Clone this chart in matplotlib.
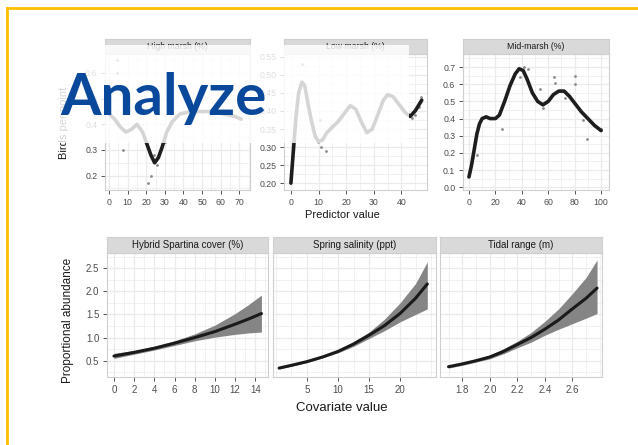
import matplotlib
matplotlib.use("Agg")
import matplotlib.pyplot as plt
from matplotlib.patches import Rectangle
from matplotlib.lines import Line2D
from matplotlib.ticker import MultipleLocator

plt.rcParams['font.family'] = ['Liberation Sans', 'DejaVu Sans']

W, H = 638, 445

# ---- top row: bird response to marsh composition ----
top_titles = ["High marsh (%)", "Low marsh (%)", "Mid-marsh (%)"]
top_ylabel = "Birds per point"
top_xlabel = "Predictor value"

high_x = [0, 3, 6, 9, 12, 15, 18, 20.5, 22.5, 24.5, 26.5, 28.5, 31, 34, 38, 44, 50, 56, 62, 68, 71]
high_y = [0.44, 0.42, 0.39, 0.37, 0.38, 0.40, 0.37, 0.32, 0.28, 0.25, 0.27, 0.31, 0.37, 0.41,
          0.44, 0.45, 0.45, 0.45, 0.44, 0.43, 0.42]
high_pts_x = [7.5, 22.6, 21, 4, 4.5, 10, 24, 26, 30]
high_pts_y = [0.30, 0.20, 0.17, 0.65, 0.60, 0.52, 0.28, 0.24, 0.33]

low_x = [0, 0.5, 1.0, 1.8, 2.8, 4.0, 5.0, 6.2, 7.5, 8.8, 10, 11.5, 13, 15, 17, 19, 21.5, 23.5,
         25.5, 27.5, 29.5, 31.5, 33.5, 35, 37, 39, 41.5, 43.2, 45, 47.4]
low_y = [0.20, 0.25, 0.30, 0.38, 0.45, 0.48, 0.47, 0.42, 0.37, 0.33, 0.315, 0.32, 0.34, 0.355,
         0.37, 0.39, 0.415, 0.405, 0.37, 0.34, 0.35, 0.39, 0.43, 0.445, 0.44, 0.42, 0.395,
         0.385, 0.40, 0.43]
low_pts_x = [10.8, 12.6, 44, 45, 46.5, 47, 4, 10.5, 15]
low_pts_y = [0.30, 0.29, 0.38, 0.39, 0.41, 0.44, 0.53, 0.375, 0.36]

mid_x = [0, 2, 4, 6, 8, 10, 13, 16, 20, 23, 27, 31, 35, 38, 41, 44, 48, 52, 56, 60, 64, 68,
         72, 76, 80, 85, 90, 95, 100]
mid_y = [0.06, 0.13, 0.22, 0.31, 0.37, 0.40, 0.41, 0.40, 0.40, 0.42, 0.50, 0.59, 0.66, 0.69,
         0.68, 0.63, 0.55, 0.50, 0.48, 0.50, 0.54, 0.56, 0.56, 0.53, 0.49, 0.44, 0.40, 0.36, 0.33]
mid_pts_x = [6, 3, 25, 39, 42, 45, 54, 56, 64, 65, 73, 80, 80, 86, 89, 100]
mid_pts_y = [0.19, 0.18, 0.34, 0.64, 0.70, 0.69, 0.57, 0.46, 0.64, 0.61, 0.52, 0.65, 0.60,
             0.39, 0.28, 0.34]

# ---- bottom row: proportional abundance vs covariates ----
bot_titles = ["Hybrid Spartina cover (%)", "Spring salinity (ppt)", "Tidal range (m)"]
bot_ylabel = "Proportional abundance"
bot_xlabel = "Covariate value"

sp_x = [0, 2, 4, 6, 8, 10, 12, 13.3, 14.6]
sp_fit = [0.60, 0.68, 0.77, 0.88, 1.00, 1.13, 1.29, 1.40, 1.52]
sp_lo = [0.55, 0.64, 0.73, 0.83, 0.93, 1.01, 1.07, 1.10, 1.12]
sp_hi = [0.66, 0.72, 0.81, 0.93, 1.08, 1.27, 1.52, 1.71, 1.92]

sal_x = [0.5, 2.5, 5, 7.5, 10, 12.5, 15, 17.5, 20, 22.5, 24.4]
sal_fit = [0.34, 0.40, 0.48, 0.58, 0.70, 0.86, 1.05, 1.26, 1.52, 1.85, 2.16]
sal_lo = [0.32, 0.38, 0.46, 0.56, 0.67, 0.81, 0.98, 1.15, 1.34, 1.50, 1.62]
sal_hi = [0.36, 0.42, 0.50, 0.61, 0.73, 0.91, 1.12, 1.40, 1.75, 2.17, 2.64]

tide_x = [1.70, 1.8, 1.9, 2.0, 2.1, 2.2, 2.3, 2.4, 2.5, 2.6, 2.7, 2.78]
tide_fit = [0.37, 0.43, 0.50, 0.58, 0.70, 0.85, 1.00, 1.18, 1.38, 1.62, 1.85, 2.07]
tide_lo = [0.34, 0.40, 0.47, 0.54, 0.65, 0.78, 0.90, 1.05, 1.18, 1.30, 1.42, 1.52]
tide_hi = [0.40, 0.46, 0.53, 0.62, 0.76, 0.92, 1.11, 1.35, 1.62, 1.95, 2.30, 2.68]

bot_xticks = [[0, 2, 4, 6, 8, 10, 12, 14], [5, 10, 15, 20], [1.8, 2.0, 2.2, 2.4, 2.6]]
bot_xticklabels = [["0", "2", "4", "6", "8", "10", "12", "14"], ["5", "10", "15", "20"],
                   ["1.8", "2.0", "2.2", "2.4", "2.6"]]
bot_yticks = [0.5, 1.0, 1.5, 2.0, 2.5]

GRID = "#EBEBEB"
BORDER = "#CFCFCF"
STRIP = "#D9D9D9"
TICKC = "#4D4D4D"

fig = plt.figure(figsize=(W / 100, H / 100), dpi=100)
fig.patch.set_facecolor("white")


def box(x0, y0, x1, y1):
    return [x0 / W, 1 - y1 / H, (x1 - x0) / W, (y1 - y0) / H]


def panel(x0, y0, x1, y1, strip_h, title, tsize, lsize):
    ax = fig.add_axes(box(x0, y0, x1, y1))
    ax.set_facecolor("white")
    ax.grid(True, which="major", color=GRID, lw=0.9, zorder=0)
    ax.grid(True, which="minor", color=GRID, lw=0.5, zorder=0)
    ax.set_axisbelow(True)
    for s in ax.spines.values():
        s.set_color(BORDER)
        s.set_linewidth(0.8)
    ax.tick_params(which="major", length=3, width=0.7, color="#555555",
                   labelsize=lsize, labelcolor=TICKC, pad=2.5)
    ax.tick_params(which="minor", length=0)
    sx = fig.add_axes(box(x0, y0 - strip_h, x1, y0))
    sx.set_facecolor(STRIP)
    sx.set_xticks([])
    sx.set_yticks([])
    for s in sx.spines.values():
        s.set_color(BORDER)
        s.set_linewidth(0.8)
    sx.text(0.5, 0.5, title, ha="center", va="center", fontsize=tsize,
            color="#1A1A1A", transform=sx.transAxes)
    return ax


# top row
top_boxes = [(105, 54, 250, 190), (284, 54, 427, 190), (463, 54, 609, 190)]
top_data = [(high_x, high_y, high_pts_x, high_pts_y),
            (low_x, low_y, low_pts_x, low_pts_y),
            (mid_x, mid_y, mid_pts_x, mid_pts_y)]
top_xlims = [(-2.2, 75.8), (-2.5, 49.3), (-4.5, 106)]
top_ylims = [(0.144, 0.674), (0.181, 0.558), (-0.016, 0.776)]
top_xt = [[0, 10, 20, 30, 40, 50, 60, 70], [0, 10, 20, 30, 40], [0, 20, 40, 60, 80, 100]]
top_ymaj = [0.1, 0.05, 0.1]
top_yfmt = ["{:.1f}", "{:.2f}", "{:.1f}"]

for (bx, title, (cx, cy, px, py), xl, yl, xt, ym, fmt) in zip(
        top_boxes, top_titles, top_data, top_xlims, top_ylims, top_xt, top_ymaj, top_yfmt):
    ax = panel(*bx, 15, title, 6.3, 6.3)
    ax.scatter(px, py, s=4, color="#8A8A8A", zorder=2, lw=0)
    ax.plot(cx, cy, color="#1E1E1E", lw=2.6, solid_capstyle="round",
            solid_joinstyle="round", zorder=3)
    ax.set_xlim(*xl)
    ax.set_ylim(*yl)
    ax.set_xticks(xt)
    step = xt[1] - xt[0]
    ax.xaxis.set_minor_locator(MultipleLocator(step / 2))
    ax.yaxis.set_major_locator(MultipleLocator(ym))
    ax.yaxis.set_minor_locator(MultipleLocator(ym / 2))
    ax.yaxis.set_major_formatter(plt.FuncFormatter(lambda v, p, f=fmt: f.format(v)))

fig.text(64 / W, 1 - 123 / H, top_ylabel, rotation=90, ha="center", va="center",
         fontsize=8, color="#1A1A1A")
fig.text(342 / W, 1 - 215 / H, top_xlabel, ha="center", va="center",
         fontsize=8, color="#1A1A1A")

# bottom row
bot_boxes = [(107, 253, 268, 377), (273, 253, 436, 377), (440, 253, 602, 377)]
bot_data = [(sp_x, sp_fit, sp_lo, sp_hi), (sal_x, sal_fit, sal_lo, sal_hi),
            (tide_x, tide_fit, tide_lo, tide_hi)]
bot_xlims = [(-0.69, 15.25), (-0.48, 25.8), (1.638, 2.816)]

for i, (bx, title, (x, fit, lo, hi), xl) in enumerate(zip(bot_boxes, bot_titles, bot_data, bot_xlims)):
    ax = panel(*bx, 16, title, 7, 7)
    ax.fill_between(x, lo, hi, color="#858585", lw=0, zorder=2)
    ax.plot(x, fit, color="#1A1A1A", lw=2.2, solid_capstyle="round",
            solid_joinstyle="round", zorder=3)
    ax.set_xlim(*xl)
    ax.set_ylim(0.147, 2.83)
    ax.set_xticks(bot_xticks[i])
    ax.set_xticklabels(bot_xticklabels[i])
    step = bot_xticks[i][1] - bot_xticks[i][0]
    ax.xaxis.set_minor_locator(MultipleLocator(step / 2))
    ax.set_yticks(bot_yticks)
    ax.yaxis.set_minor_locator(MultipleLocator(0.25))
    if i == 0:
        ax.set_yticklabels(["{:.1f}".format(v) for v in bot_yticks])
    else:
        ax.tick_params(axis="y", which="major", length=0, labelleft=False)

fig.text(68 / W, 1 - 320 / H, bot_ylabel, rotation=90, ha="center", va="center",
         fontsize=8.5, color="#1A1A1A")
fig.text(342 / W, 1 - 408 / H, bot_xlabel, ha="center", va="center",
         fontsize=9.5, color="#1A1A1A")

# translucent white band behind the heading
fig.add_artist(Rectangle((45 / W, 1 - 143 / H), (409 - 45) / W, (143 - 45) / H,
                         transform=fig.transFigure, facecolor="white", alpha=0.82,
                         edgecolor="none", zorder=5))

fig.text(60 / W, 1 - 115 / H, "Analyze", ha="left", va="baseline", fontsize=42,
         fontweight="bold", family=["Lato", "DejaVu Sans"], color="#0A489C", zorder=6)

# amber frame
fig.add_artist(Line2D([7 / W, 1.0], [1 - 8 / H, 1 - 8 / H], transform=fig.transFigure,
                      color="#FFC000", lw=2.0, zorder=7))
fig.add_artist(Line2D([7 / W, 7 / W], [0, 1 - 8 / H], transform=fig.transFigure,
                      color="#FFC000", lw=2.0, zorder=7))

fig.savefig("out.png", dpi=100)
